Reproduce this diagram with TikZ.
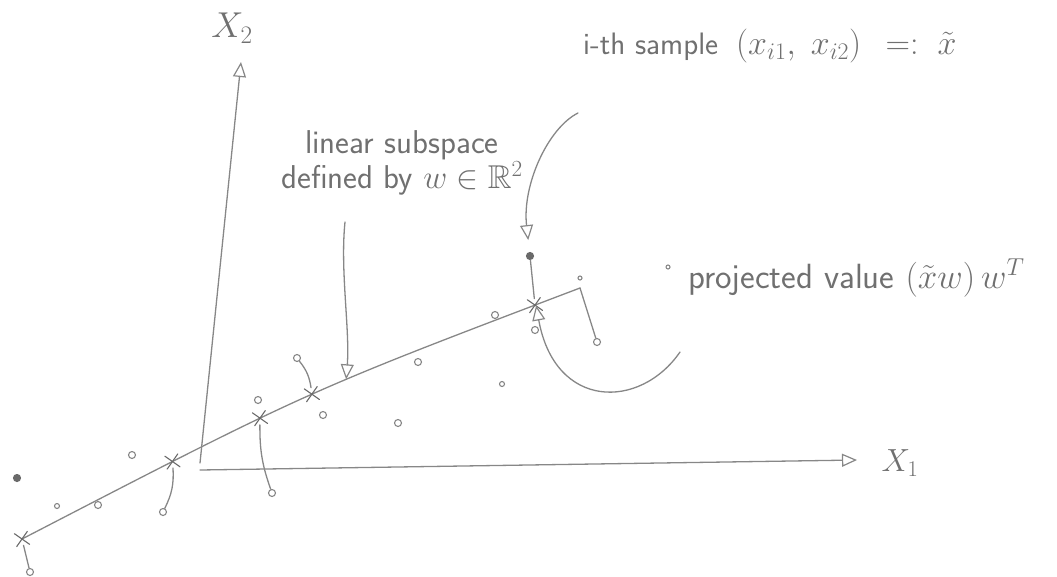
\documentclass[tikz,border=0pt]{standalone}
\usepackage{fix-cm}
\usepackage{amssymb}
\usepackage{tikz}
\usetikzlibrary{arrows.meta, shapes.misc, calc}
\definecolor{PencilLine}{HTML}{878787}
\definecolor{PencilText}{HTML}{707070}
\definecolor{PencilDark}{HTML}{6A6A6A}

\begin{document}
\begin{tikzpicture}[x=1pt, y=-1pt, line cap=round, line join=round,
    pencil/.style={draw=PencilLine, line width=1.3pt},
    pointer/.style={pencil, -{Triangle[open, length=15pt, width=13pt, line width=1.2pt]}},
    sample/.style={circle, draw=PencilLine, line width=1.1pt, inner sep=0pt, minimum size=7pt},
    darksample/.style={sample, fill=PencilDark, draw=PencilDark},
    projmark/.style={cross out, draw=PencilDark, line width=1.1pt, inner sep=0pt, minimum size=12pt, rotate=10},
    hand/.style={text=PencilText, font=\sffamily\fontsize{31}{33}\selectfont, inner sep=0pt}]
  \useasboundingbox (0,0) rectangle (1057,576);

  % axes
  \coordinate (origin) at (200,463);
  \coordinate (xtwotip) at (241,62);
  \coordinate (xonetip) at (857,460);
  \draw[pointer] (origin) -- (xtwotip);
  \draw[pointer] ([yshift=-7pt]origin) -- (xonetip);
  \node[hand, font=\sffamily\fontsize{36}{38}\selectfont] (xtwo) at (232,28) {$X_2$};
  \node[hand, font=\sffamily\fontsize{32}{34}\selectfont] (xone) at (900,463) {$X_1$};

  % linear subspace with projected values
  \draw[pencil] (22,539) .. controls (306,392) .. (580,288)
    node[projmark, pos=0] (p1) {}
    node[projmark, pos=0.217] (p2) {}
    node[projmark, pos=0.395] (p3) {}
    node[projmark, pos=0.517] (p4) {}
    node[projmark, pos=0.942] (p5) {}
    coordinate[pos=1] (p6)
    coordinate[pos=0.598] (subhit);

  % samples
  \node[sample] (s1) at (30,572) {};
  \node[sample] (s2) at (163,512) {};
  \node[sample] (s3) at (272,493) {};
  \node[sample] (s4) at (297,358) {};
  \node[darksample] (s5) at (530,256) {};
  \node[sample] (s6) at (597,342) {};
  \node[darksample] (s7) at (17,478) {};
  \node[sample, minimum size=5pt] (s8) at (57,506) {};
  \node[sample] (s9) at (98,505) {};
  \node[sample] (s10) at (132,455) {};
  \node[sample] (s11) at (258,400) {};
  \node[sample] (s12) at (323,415) {};
  \node[sample] (s13) at (398,423) {};
  \node[sample] (s14) at (418,362) {};
  \node[sample] (s15) at (495,315) {};
  \node[sample] (s16) at (535,330) {};
  \node[sample, minimum size=5pt] (s17) at (502,384) {};
  \node[sample, minimum size=4pt] (s18) at (668,267) {};
  \node[sample, minimum size=4pt] (s19) at (580,278) {};

  % projections onto the subspace
  \draw[pencil] (s1) -- (p1);
  \draw[pencil] (s2) to[bend right=15] (p2);
  \draw[pencil] (s3) to[bend left=10] (p3);
  \draw[pencil] (s4) to[bend left=15] (p4);
  \draw[pencil] (s5) -- (p5);
  \draw[pencil] (s6) -- (p6);

  % labels
  \node[hand, anchor=west] (sample) at (583,46) {i-th sample\hspace{18pt}\fontsize{34}{36}\selectfont$(x_{i1},\;x_{i2})\;\,=:\;\tilde{x}$};
  \node[hand, align=center, font=\sffamily\fontsize{33}{30}\selectfont] (subspace) at (402,163) {linear subspace\\defined by $w \in \mathbb{R}^2$};
  \node[hand, anchor=west, font=\sffamily\fontsize{35}{38}\selectfont] (projected) at (688,278) {projected value $(\tilde{x}w)\,w^T$};

  \coordinate (sampletail) at (578,113);
  \coordinate (subtail) at (345,222);
  \coordinate (projtail) at (680,352);
  \draw[pointer, shorten >=12pt] (sampletail) .. controls (548,128) and (522,185) .. (s5);
  \draw[pointer] (subtail) .. controls (340,270) and (350,330) .. (subhit);
  \draw[pointer] (projtail) .. controls (640,410) and (555,410) .. ([yshift=6pt]p5.south);
\end{tikzpicture}
\end{document}
